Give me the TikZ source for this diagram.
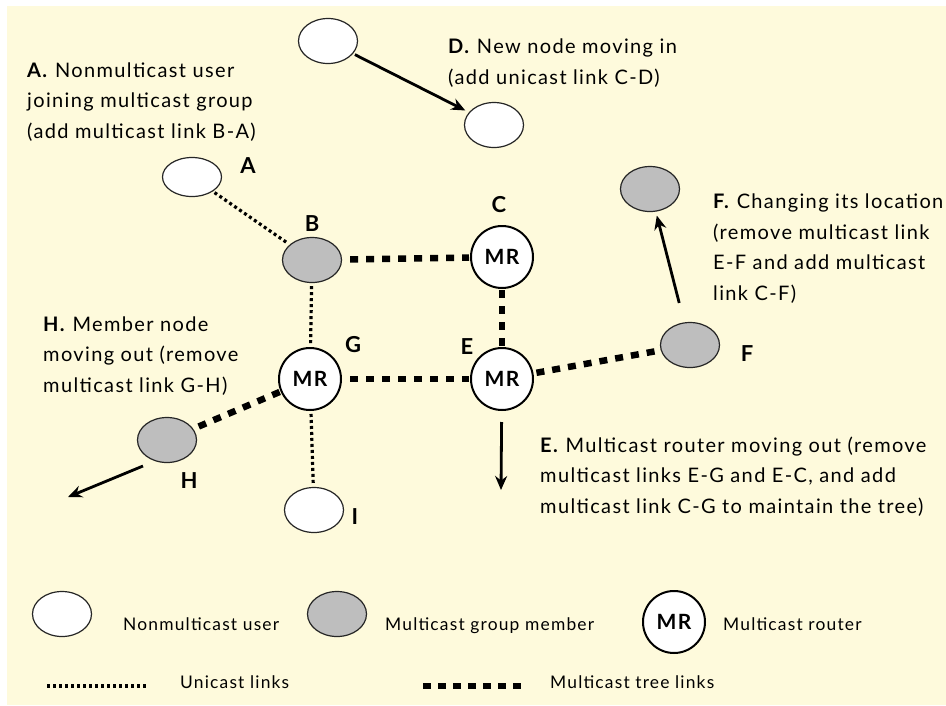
\documentclass[tikz,border=0pt]{standalone}
\usepackage{fontspec}
\setmainfont{Lato}[LetterSpace=6.8]
\usetikzlibrary{shapes.geometric,arrows.meta}
\definecolor{cream}{RGB}{254,250,220}
\definecolor{member}{RGB}{190,190,190}
\tikzset{
  user/.style={ellipse,draw=black!85,line width=1.2pt,fill=white,minimum width=59pt,minimum height=45pt,inner sep=0pt},
  groupmember/.style={user,fill=member},
  router/.style={circle,draw=black,line width=2pt,fill=white,minimum size=62pt,inner sep=0pt,font=\fontsize{21}{21}\selectfont\bfseries},
  tag/.style={font=\fontsize{22}{22}\selectfont\bfseries,inner sep=0pt},
  note/.style={align=left,anchor=base west,inner sep=0pt,font=\fontsize{20}{30.5}\selectfont},
  key/.style={anchor=base west,inner sep=0pt,font=\fontsize{17.4}{17.4}\selectfont},
  unicast/.style={line width=3.2pt,dash pattern=on 3pt off 3pt},
  treelink/.style={line width=6.5pt,dash pattern=on 8pt off 8pt},
  move/.style={line width=2.8pt,-{Stealth[length=14pt,width=12pt]}},
}
\begin{document}
\begin{tikzpicture}[x=1pt,y=-1pt]
\useasboundingbox (0,0) rectangle (946,705);
\fill[cream] (7,6) rectangle (946,705);

% network nodes
\node[user] (D0) at (328,41) {};
\node[user] (D) at (494,125) {};
\node[user,minimum height=39pt] (A) at (192,177) {};
\node[groupmember] (B) at (312,260) {};
\node[router] (C) at (502,257) {MR};
\node[router] (G) at (310,379) {MR};
\node[router] (E) at (502,379) {MR};
\node[groupmember] (F) at (690,345) {};
\node[groupmember] (F2) at (650,189) {};
\node[groupmember] (H) at (167,440) {};
\node[user] (I) at (314,510) {};

% node letters
\node[tag] (tA) at (248,166) {A};
\node[tag] (tB) at (312,224) {B};
\node[tag] (tC) at (499,205) {C};
\node[tag] (tG) at (353,345) {G};
\node[tag] (tE) at (467,347) {E};
\node[tag] (tF) at (747,354) {F};
\node[tag] (tH) at (189,481) {H};
\node[tag] (tI) at (355,517) {I};

% links
\draw[unicast,shorten <=2pt,shorten >=2pt] (A) -- (B);
\draw[unicast,shorten <=3pt,shorten >=3pt] (B) -- (G);
\draw[unicast,shorten <=3pt,shorten >=3pt] (G) -- (I);
\draw[treelink,shorten <=8pt,shorten >=1pt] (B) -- (C);
\draw[treelink,shorten <=8pt,shorten >=1pt] (G) -- (E);
\draw[treelink,shorten <=1pt,shorten >=1pt] (C) -- (E);
\draw[treelink,shorten <=1pt,shorten >=1pt] (G) -- (H);
\draw[treelink,shorten <=3pt,shorten >=1pt] (E) -- (F);

% movements
\coordinate (Htail) at (143,466);
\coordinate (Hout) at (68,497);
\coordinate (Eout) at (501,490);
\draw[move,shorten <=2pt,shorten >=4pt] (D0) -- (D);
\draw[move,shorten <=20pt,shorten >=4pt] (F) -- (F2);
\draw[move] (Htail) -- (Hout);
\draw[move,shorten <=11pt] (E) -- (Eout);

% descriptions (placed at the baseline of their last line)
\node[note] (nA) at (27,138) {\textbf{A.} Nonmulticast user\\joining multicast group\\(add multicast link B-A)};
\node[note] (nD) at (448,84) {\textbf{D.} New node moving in\\(add unicast link C-D)};
\node[note] (nF) at (713,300) {\textbf{F.} Changing its location\\(remove multicast link\\E-F and add multicast\\link C-F)};
\node[note] (nH) at (43,392) {\textbf{H.} Member node\\moving out (remove\\multicast link G-H)};
\node[note] (nE) at (540,513) {\textbf{E.} Multicast router moving out (remove\\multicast links E-G and E-C, and add\\multicast link C-G to maintain the tree)};

% legend
\node[user] (L1) at (62,614) {};
\node[key] (L1t) at (123,630) {Nonmulticast user};
\node[groupmember] (L2) at (337,614) {};
\node[key] (L2t) at (385,630) {Multicast group member};
\node[router] (L3) at (674,622) {MR};
\node[key] (L3t) at (723,630) {Multicast router};
\coordinate (U1) at (47,686);
\coordinate (U2) at (147,686);
\draw[unicast] (U1) -- (U2);
\node[key] (L4t) at (180,688) {Unicast links};
\coordinate (T1) at (423,686);
\coordinate (T2) at (526,686);
\draw[treelink,dash pattern=on 8pt off 7pt] (T1) -- (T2);
\node[key] (L5t) at (550,688) {Multicast tree links};
\end{tikzpicture}
\end{document}
